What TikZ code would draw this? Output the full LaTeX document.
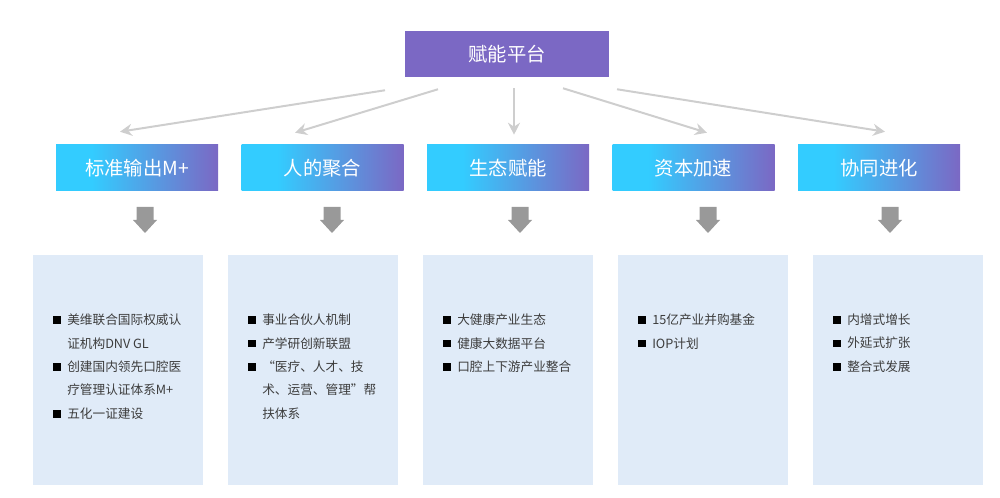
\documentclass[tikz,border=0pt]{standalone}
\usepackage{fontspec}
\setmainfont{Noto Sans CJK SC}
\usepackage{tikz}
\usetikzlibrary{arrows.meta}
\usetikzlibrary{calc}

\definecolor{platpurple}{RGB}{123,104,196}
\definecolor{catcyan}{RGB}{51,204,255}
\definecolor{panelblue}{RGB}{224,235,248}
\definecolor{fangray}{RGB}{206,206,206}
\definecolor{blockgray}{RGB}{153,153,153}
\definecolor{itemgray}{RGB}{60,60,60}

\pgfdeclarehorizontalshading{catshade}{100bp}{color(0bp)=(catcyan); color(25bp)=(catcyan); color(36bp)=(catcyan); color(75bp)=(platpurple); color(100bp)=(platpurple)}

\newcommand{\bul}{\makebox[10.5pt][l]{\color{black}\raisebox{0.5pt}{\rule{5.8pt}{5.8pt}}}}
\newcommand{\contline}{\hspace*{10.5pt}}

\tikzset{
  titlebox/.style={fill=platpurple, text=white, minimum width=153pt, minimum height=34.5pt,
    font=\fontsize{14.5}{16}\selectfont},
  catbox/.style={shade, shading=catshade, text=white, minimum width=121.5pt, minimum height=34.5pt,
    font=\fontsize{14.5}{16}\selectfont},
  panel/.style={fill=panelblue, anchor=north west, inner sep=0pt, outer sep=0pt,
    minimum width=127.5pt, minimum height=172.5pt},
  itemlist/.style={anchor=north west, inner sep=0pt, align=left, text=itemgray,
    font=\fontsize{9.5}{17.6}\selectfont},
  fanarrow/.style={draw=fangray, line width=1.5pt,
    -{Stealth[length=9pt,width=9pt,inset=3pt]}}
}

\begin{document}
\begin{tikzpicture}[x=0.75pt,y=-0.75pt]

  \useasboundingbox (0,0) rectangle (1000,498);

  \node [titlebox] (plat) at (507,54) {赋能平台};

  \foreach \i/\lbl in {1/标准输出M+,2/人的聚合,3/生态赋能,4/资本加速,5/协同进化}
    \node [catbox] (c\i) at ({137+185.5*(\i-1)},168) {\lbl};

  \foreach \i in {1,...,5}
    \node [panel] (p\i) at ({33+195*(\i-1)},255) {};

  % fan-out from the platform
  \coordinate (s1) at ($(plat.south)+(-122,13)$);
  \coordinate (s2) at ($(plat.south)+(-69,12)$);
  \coordinate (s3) at ($(plat.south)+(7,11)$);
  \coordinate (s4) at ($(plat.south)+(56,11)$);
  \coordinate (s5) at ($(plat.south)+(110,12)$);

  \coordinate (e1) at ($(c1.north)+(-17,-13)$);
  \coordinate (e2) at ($(c2.north)+(-27.5,-12)$);
  \coordinate (e3) at ($(c3.north)+(6,-10)$);
  \coordinate (e4) at ($(c4.north)+(13.5,-12)$);
  \coordinate (e5) at ($(c5.north)+(6,-13)$);

  \foreach \i in {1,...,5}
    \draw [fanarrow] (s\i) -- (e\i);

  % block arrows down
  \foreach \x in {145,332,520,708,890}
    \fill [blockgray] (\x-8.5,207) -- (\x+8.5,207) -- (\x+8.5,220) -- (\x+12,220)
      -- (\x,233) -- (\x-12,220) -- (\x-8.5,220) -- cycle;

  % item lists
  \node [itemlist] (l1) at ($(p1.north west)+(20,58.6)$)
    {\bul 美维联合国际权威认\\ \contline 证机构DNV GL\\ \bul 创建国内领先口腔医\\
     \contline 疗管理认证体系M+\\ \bul 五化一证建设};
  \node [itemlist] (l2) at ($(p2.north west)+(20,58.6)$)
    {\bul 事业合伙人机制\\ \bul 产学研创新联盟\\ \bul “医疗、人才、技\\
     \contline 术、运营、管理”帮\\ \contline 扶体系};
  \node [itemlist] (l3) at ($(p3.north west)+(20,58.6)$)
    {\bul 大健康产业生态\\ \bul 健康大数据平台\\ \bul 口腔上下游产业整合};
  \node [itemlist] (l4) at ($(p4.north west)+(20,58.6)$)
    {\bul 15亿产业并购基金\\ \bul IOP计划};
  \node [itemlist] (l5) at ($(p5.north west)+(20,58.6)$)
    {\bul 内增式增长\\ \bul 外延式扩张\\ \bul 整合式发展};

\end{tikzpicture}
\end{document}
